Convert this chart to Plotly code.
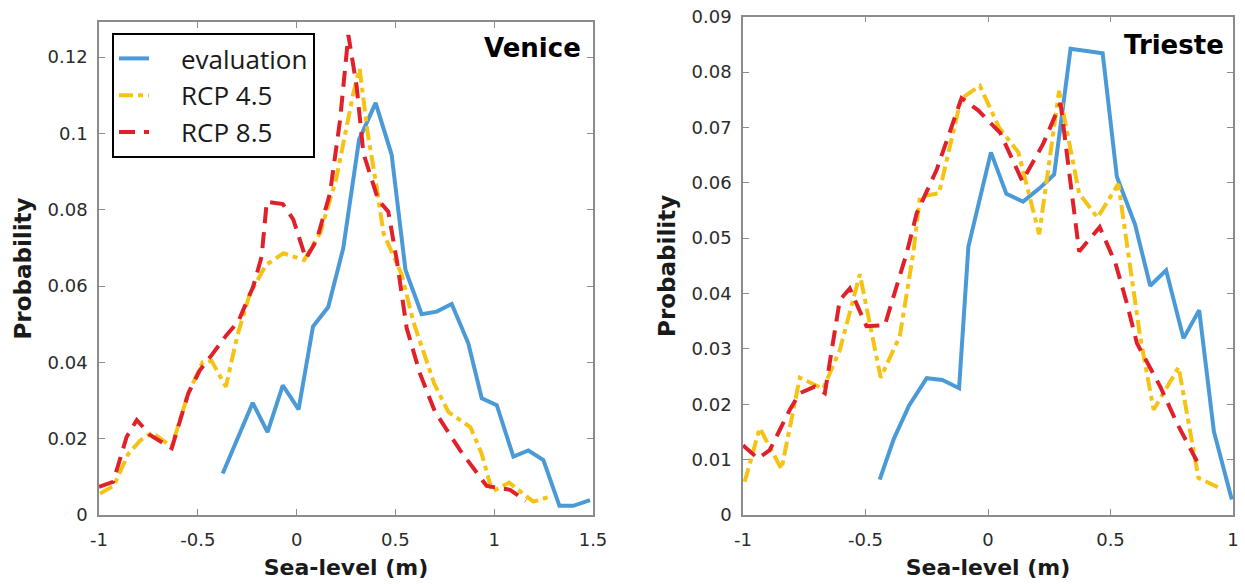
import plotly.graph_objects as go

# ---- Venice: sea-level probability distributions ----
venice_eval_x = [-0.374, -0.222, -0.147, -0.070, 0.010, 0.083, 0.160, 0.236, 0.316, 0.355,
                 0.400, 0.481, 0.551, 0.633, 0.709, 0.785, 0.869, 0.937, 1.013, 1.097,
                 1.173, 1.249, 1.330, 1.400, 1.485]
venice_eval_y = [0.0109, 0.0294, 0.0217, 0.0340, 0.0277, 0.0494, 0.0545, 0.0699, 0.0983, 0.1030,
                 0.1080, 0.0944, 0.0642, 0.0526, 0.0533, 0.0553, 0.0450, 0.0306, 0.0288, 0.0153,
                 0.0169, 0.0144, 0.0024, 0.0024, 0.0039]

venice_rcp45_x = [-0.995, -0.925, -0.852, -0.790, -0.730, -0.632, -0.548, -0.476, -0.430, -0.358,
                  -0.300, -0.236, -0.155, -0.067, 0.038, 0.120, 0.200, 0.287, 0.319, 0.360,
                  0.405, 0.440, 0.532, 0.591, 0.696, 0.768, 0.880, 0.937, 0.990, 1.075,
                  1.198, 1.295]
venice_rcp45_y = [0.0056, 0.0077, 0.0160, 0.0196, 0.0216, 0.0179, 0.0319, 0.0400, 0.0404, 0.0336,
                  0.0470, 0.0581, 0.0655, 0.0686, 0.0668, 0.0740, 0.0880, 0.1105, 0.1170, 0.1000,
                  0.0860, 0.0738, 0.0630, 0.0506, 0.0345, 0.0270, 0.0230, 0.0160, 0.0061, 0.0085,
                  0.0035, 0.0050]

venice_rcp85_x = [-1.000, -0.928, -0.860, -0.809, -0.742, -0.632, -0.548, -0.489, -0.430, -0.354,
                  -0.295, -0.220, -0.177, -0.151, -0.070, -0.017, 0.047, 0.102, 0.169, 0.220,
                  0.262, 0.304, 0.338, 0.413, 0.464, 0.507, 0.557, 0.624, 0.700, 0.827,
                  0.962, 1.080, 1.160]
venice_rcp85_y = [0.0074, 0.0087, 0.0205, 0.0249, 0.0210, 0.0175, 0.0319, 0.0380, 0.0419, 0.0472,
                  0.0507, 0.0598, 0.0677, 0.0821, 0.0815, 0.0775, 0.0672, 0.0721, 0.0843, 0.1035,
                  0.1258, 0.1123, 0.0948, 0.0826, 0.0795, 0.0668, 0.0490, 0.0371, 0.0271, 0.0170,
                  0.0076, 0.0066, 0.0037]

# ---- Trieste ----
trieste_eval_x = [-0.442, -0.384, -0.322, -0.250, -0.186, -0.118, -0.080, 0.012, 0.075, 0.143,
                  0.210, 0.270, 0.337, 0.468, 0.526, 0.600, 0.662, 0.727, 0.798, 0.862,
                  0.922, 0.995]
trieste_eval_y = [0.0064, 0.0138, 0.0198, 0.0247, 0.0244, 0.0229, 0.0485, 0.0655, 0.0580, 0.0566,
                  0.0590, 0.0615, 0.0842, 0.0834, 0.0611, 0.0525, 0.0414, 0.0442, 0.0319, 0.0370,
                  0.0151, 0.0028]

trieste_rcp45_x = [-0.993, -0.932, -0.843, -0.768, -0.673, -0.605, -0.523, -0.438, -0.360, -0.305,
                   -0.278, -0.200, -0.110, -0.033, 0.045, 0.124, 0.209, 0.290, 0.372, 0.447,
                   0.532, 0.621, 0.676, 0.778, 0.859, 0.938]
trieste_rcp45_y = [0.0060, 0.0157, 0.0083, 0.0248, 0.0228, 0.0298, 0.0435, 0.0248, 0.0323, 0.0473,
                   0.0575, 0.0581, 0.0752, 0.0775, 0.0700, 0.0655, 0.0507, 0.0766, 0.0581, 0.0537,
                   0.0598, 0.0322, 0.0190, 0.0267, 0.0067, 0.0050]

trieste_rcp85_x = [-1.000, -0.939, -0.891, -0.809, -0.768, -0.707, -0.666, -0.605, -0.564, -0.530,
                   -0.496, -0.421, -0.332, -0.291, -0.210, -0.108, -0.040, 0.050, 0.140, 0.226,
                   0.296, 0.372, 0.456, 0.520, 0.567, 0.608, 0.703, 0.771, 0.853]
trieste_rcp85_y = [0.0126, 0.0102, 0.0117, 0.0190, 0.0220, 0.0232, 0.0220, 0.0388, 0.0409, 0.0376,
                   0.0341, 0.0343, 0.0473, 0.0545, 0.0623, 0.0753, 0.0731, 0.0690, 0.0603, 0.0671,
                   0.0744, 0.0476, 0.0520, 0.0455, 0.0382, 0.0310, 0.0232, 0.0166, 0.0097]

# ---- tick labels ----
venice_xticks = [-1, -0.5, 0, 0.5, 1, 1.5]
venice_xlabels = ["-1", "-0.5", "0", "0.5", "1", "1.5"]
venice_yticks = [0, 0.02, 0.04, 0.06, 0.08, 0.1, 0.12]
venice_ylabels = ["0", "0.02", "0.04", "0.06", "0.08", "0.1", "0.12"]
trieste_xticks = [-1, -0.5, 0, 0.5, 1]
trieste_xlabels = ["-1", "-0.5", "0", "0.5", "1"]
trieste_yticks = [0, 0.01, 0.02, 0.03, 0.04, 0.05, 0.06, 0.07, 0.08, 0.09]
trieste_ylabels = ["0", "0.01", "0.02", "0.03", "0.04", "0.05", "0.06", "0.07", "0.08", "0.09"]

BLUE = "#4A9AD8"
YELLOW = "#F5C313"
RED = "#E1202A"
LW = 4

# legend label, colour, dash pattern
series = [
    ("evaluation", BLUE, "solid"),
    ("RCP 4.5", YELLOW, "14px,5px,5px,5px"),
    ("RCP 8.5", RED, "16px,9px"),
]
PAD = "\u00a0" * 4  # spacing between legend line sample and its label

fig = go.Figure()
venice = [(venice_eval_x, venice_eval_y), (venice_rcp45_x, venice_rcp45_y), (venice_rcp85_x, venice_rcp85_y)]
trieste = [(trieste_eval_x, trieste_eval_y), (trieste_rcp45_x, trieste_rcp45_y), (trieste_rcp85_x, trieste_rcp85_y)]

for (name, color, dash), (xs, ys) in zip(series, venice):
    fig.add_trace(go.Scatter(x=xs, y=ys, mode="lines", name=PAD + name,
                             line=dict(color=color, width=LW, dash=dash),
                             xaxis="x", yaxis="y", legendgroup=name))
for (name, color, dash), (xs, ys) in zip(series, trieste):
    fig.add_trace(go.Scatter(x=xs, y=ys, mode="lines", name=PAD + name, showlegend=False,
                             line=dict(color=color, width=LW, dash=dash),
                             xaxis="x2", yaxis="y2", legendgroup=name))

W, H = 1245, 584
FONT = "DejaVu Sans, Liberation Sans, Arial, sans-serif"
tick_font = dict(family=FONT, size=18, color="#2b2b2b")
title_font = dict(family=FONT, size=22, color="#1a1a1a")
ytitle_font = dict(family=FONT, size=23, color="#1a1a1a")
AX = dict(showline=True, linecolor="#8c8c8c", linewidth=1.5, mirror="allticks",
          ticks="inside", ticklen=6, tickwidth=1.2, tickcolor="#8c8c8c",
          showgrid=False, zeroline=False, tickfont=tick_font, tickmode="array",
          automargin=False)

fig.update_layout(
    width=W, height=H,
    margin=dict(l=0, r=0, t=0, b=0, autoexpand=False),
    paper_bgcolor="white", plot_bgcolor="white",
    showlegend=True,
    legend=dict(x=112 / W, y=1 - 33 / H, xanchor="left", yanchor="top",
                bordercolor="black", borderwidth=2, bgcolor="white",
                font=dict(family="Open Sans, sans-serif", size=26, color="#1a1a1a"),
                tracegroupgap=0),
    xaxis=dict(AX, domain=[99 / W, 593 / W], range=[-1, 1.5], anchor="y",
               tickvals=venice_xticks, ticktext=venice_xlabels, ticklabelstandoff=8,
               title=dict(text="<b>Sea-level (m)</b>", font=title_font, standoff=10)),
    yaxis=dict(AX, domain=[1 - 515 / H, 1 - 22 / H], range=[0, 0.1292], anchor="x",
               tickvals=venice_yticks, ticktext=venice_ylabels, ticklabelstandoff=6,
               title=dict(text="<b>Probability</b>", font=ytitle_font, standoff=10)),
    xaxis2=dict(AX, domain=[743 / W, 1233 / W], range=[-1, 1], anchor="y2",
                tickvals=trieste_xticks, ticktext=trieste_xlabels, ticklabelstandoff=8,
                title=dict(text="<b>Sea-level (m)</b>", font=title_font, standoff=10)),
    yaxis2=dict(AX, domain=[1 - 515 / H, 1 - 16.7 / H], range=[0, 0.09], anchor="x2",
                tickvals=trieste_yticks, ticktext=trieste_ylabels, ticklabelstandoff=6,
                title=dict(text="<b>Probability</b>", font=ytitle_font, standoff=10)),
    annotations=[
        dict(text="<b>Venice</b>", xref="paper", yref="paper", x=583 / W, y=1 - 48 / H,
             xanchor="right", yanchor="middle", showarrow=False,
             font=dict(family=FONT, size=26, color="black")),
        dict(text="<b>Trieste</b>", xref="paper", yref="paper", x=1226 / W, y=1 - 45 / H,
             xanchor="right", yanchor="middle", showarrow=False,
             font=dict(family=FONT, size=26, color="black")),
    ],
)

fig.write_html("out.html")
